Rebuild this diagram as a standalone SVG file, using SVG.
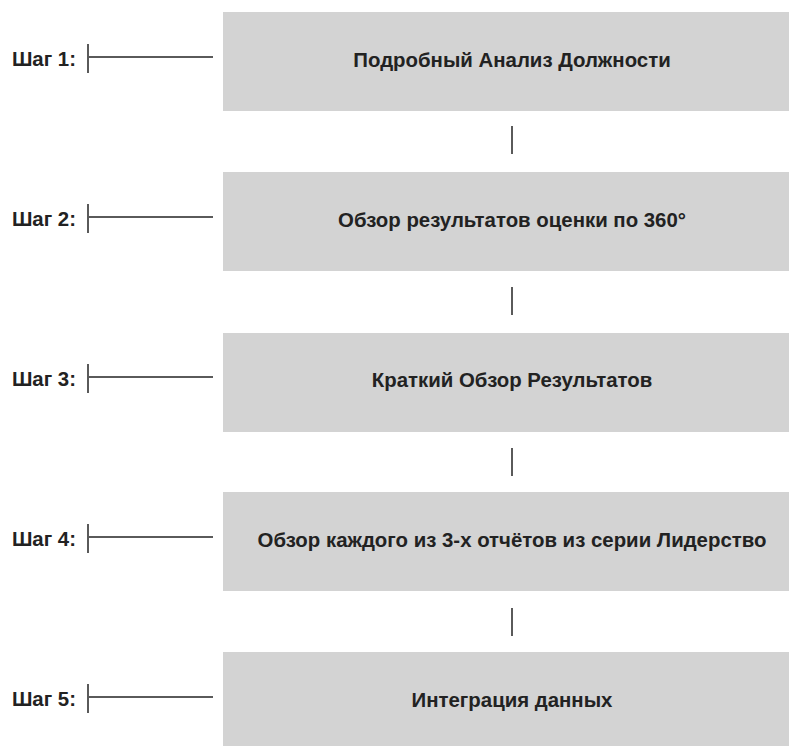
<svg xmlns="http://www.w3.org/2000/svg" width="789" height="746" viewBox="0 0 789 746">
<style>
.box{fill:#d3d3d3}
.t{font-family:"Liberation Sans",Arial,sans-serif;font-weight:bold;font-size:20.4px;fill:#222}
.bt{text-anchor:middle}
.lt{text-anchor:end}
.ln{stroke:#5a5a5a;stroke-width:2;fill:none}
</style>
<rect width="789" height="746" fill="#fff"/>
<g id="connectors">
<path class="ln" d="M512 126V154M512 287V315M512 448V476M512 608V636"/>
</g>
<g id="step1">
<text class="t lt" x="76" y="66">Шаг 1:</text>
<path class="ln" d="M88 44V73M88 57H213"/>
<rect class="box" x="223" y="12" width="580" height="99"/>
<text class="t bt" x="512" y="67">Подробный Анализ Должности</text>
</g>
<g id="step2">
<text class="t lt" x="76" y="226">Шаг 2:</text>
<path class="ln" d="M88 204V233M88 217H213"/>
<rect class="box" x="223" y="172" width="580" height="99"/>
<text class="t bt" x="512" y="227">Обзор результатов оценки по 360°</text>
</g>
<g id="step3">
<text class="t lt" x="76" y="386">Шаг 3:</text>
<path class="ln" d="M88 364V393M88 377H213"/>
<rect class="box" x="223" y="333" width="580" height="99"/>
<text class="t bt" x="512" y="387">Краткий Обзор Результатов</text>
</g>
<g id="step4">
<text class="t lt" x="76" y="546">Шаг 4:</text>
<path class="ln" d="M88 524V553M88 537H213"/>
<rect class="box" x="223" y="492" width="580" height="99"/>
<text class="t bt" x="512" y="547">Обзор каждого из 3-х отчётов из серии Лидерство</text>
</g>
<g id="step5">
<text class="t lt" x="76" y="706">Шаг 5:</text>
<path class="ln" d="M88 684V713M88 697H213"/>
<rect class="box" x="223" y="652" width="580" height="99"/>
<text class="t bt" x="512" y="707">Интеграция данных</text>
</g>
</svg>
